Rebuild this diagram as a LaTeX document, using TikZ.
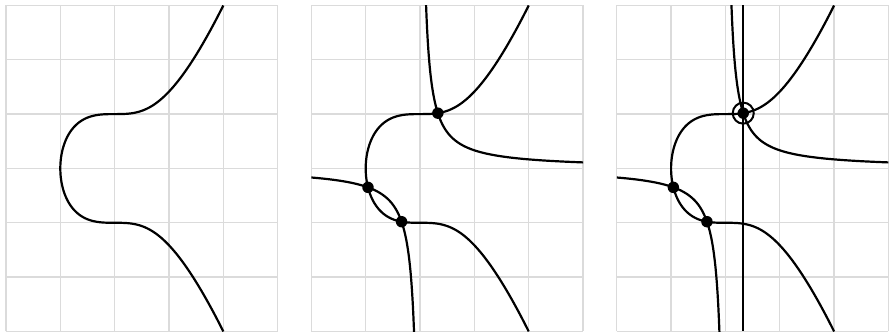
\documentclass[tikz,border=0pt]{standalone}
\usepackage{tikz}

\begin{document}
\begin{tikzpicture}[curve/.style={line width=1.15pt},
    dot/.style={circle,fill,inner sep=0pt,minimum size=6pt},
    ring/.style={circle,draw,line width=1.05pt,inner sep=0pt,minimum size=11pt}]
    \useasboundingbox (-0.11,-0.03) rectangle (16.25,6.1);
    % grid and the cubic y^2 = x^3 + 1 in every panel
    \foreach \dx in {0,5.62,11.24} {
        \begin{scope}[shift={(\dx+2,3)}]
            \draw[gray!28,line width=0.75pt] (-2,-3) grid (3,3);
            \clip (-2,-3) rectangle (3,3);
            \draw[curve] plot[domain=2:-0.7114,samples=80] (\x,{-sqrt(\x*\x*\x+1)})
                -- plot[domain=-0.8:0.8,samples=40] ({0-((1-\x*\x)^(1/3))},\x)
                -- plot[domain=-0.7114:2,samples=80] (\x,{sqrt(\x*\x*\x+1)});
        \end{scope}
    }
    % the hyperbola xy = 1/3 and the intersection points
    \foreach \i/\dx in {2/5.62,3/11.24} {
        \begin{scope}[shift={(\dx+2,3)}]
            \begin{scope}
                \clip (-2,-3) rectangle (3,3);
                \draw[curve] plot[domain=-1.7:1.7,samples=100] ({exp(\x)*0.57735},{exp(-\x)*0.57735});
                \draw[curve] plot[domain=-1.7:1.4,samples=100] ({-exp(\x)*0.57735},{-exp(-\x)*0.57735});
            \end{scope}
            \node[dot] (top\i) at (0.3276,1.0174) {};
            \node[dot] (left\i) at (-0.9579,-0.3480) {};
            \node[dot] (low\i) at (-0.3401,-0.9801) {};
        \end{scope}
    }
    % vertical line through the upper point
    \draw[curve] (top3 |- 0,6) -- (top3 |- 0,0);
    \node[ring] (circ) at (top3) {};
\end{tikzpicture}
\end{document}
